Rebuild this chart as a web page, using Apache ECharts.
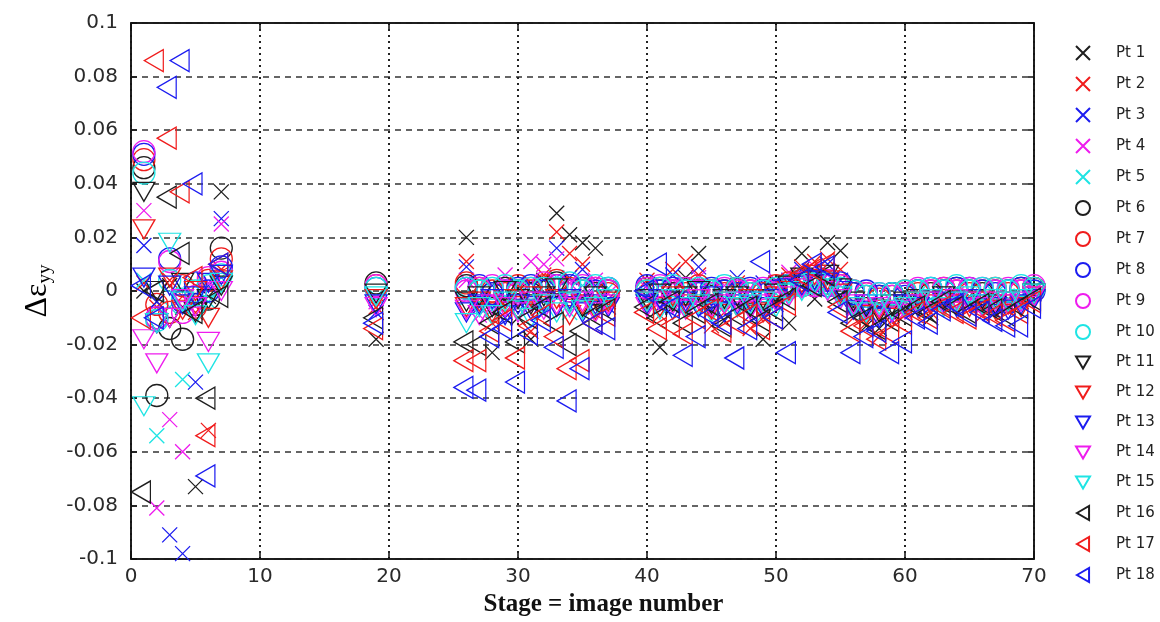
<!DOCTYPE html>
<html><head><meta charset="utf-8">
<script src="https://cdn.jsdelivr.net/npm/echarts@6/dist/echarts.min.js"></script>
<style>html,body{margin:0;padding:0;background:#fff}#c{width:1160px;height:622px}</style>
</head><body><div id="c"></div>
<script>
// Stage (image number) of every measured column
const stages = [1, 2, 3, 4, 5, 6, 7,
  19,
  26, 27, 28, 29, 30, 31, 32, 33, 34, 35, 36, 37,
  40, 41, 42, 43, 44, 45, 46, 47, 48, 49,
  50, 51, 52, 53, 54, 55, 56, 57, 58, 59,
  60, 61, 62, 63, 64, 65, 66, 67, 68, 69, 70];

const seriesNames = ['Pt 1','Pt 2','Pt 3','Pt 4','Pt 5','Pt 6','Pt 7','Pt 8','Pt 9','Pt 10',
  'Pt 11','Pt 12','Pt 13','Pt 14','Pt 15','Pt 16','Pt 17','Pt 18'];

const xTicks = [0, 10, 20, 30, 40, 50, 60, 70];
const yTicks = [-0.1, -0.08, -0.06, -0.04, -0.02, 0, 0.02, 0.04, 0.06, 0.08, 0.1];

// Δε_yy values, one per stage
const pt1 = [0.000, -0.004, 0.002, -0.006, -0.073, -0.002, 0.037,
  -0.018,
  0.020, -0.005, -0.023, -0.004, -0.010, -0.018, 0.004, 0.029, 0.021, 0.018, 0.016, -0.003,
  -0.002, -0.021, -0.006, 0.005, 0.014, -0.004, -0.011, 0.002, -0.005, -0.018,
  0.003, -0.012, 0.014, -0.003, 0.018, 0.015, -0.006, -0.013, -0.014, -0.009,
  -0.004, -0.007, -0.010, -0.003, 0.001, -0.002, -0.004, -0.006, -0.003, -0.002, 0.001];
const pt2 = [0.003, -0.006, 0.004, -0.002, -0.008, -0.052, 0.008,
  -0.006,
  0.011, -0.003, -0.012, -0.008, 0.002, -0.015, 0.006, 0.022, 0.014, 0.010, -0.006, -0.004,
  0.004, -0.009, 0.008, 0.011, 0.006, -0.013, -0.008, 0.003, -0.014, -0.010,
  0.001, 0.006, 0.009, 0.011, 0.012, 0.008, -0.010, -0.012, -0.017, -0.006,
  -0.009, -0.003, -0.008, -0.004, -0.002, -0.006, -0.009, -0.004, -0.007, -0.005, 0.000];
const pt3 = [0.017, -0.004, -0.091, -0.098, -0.034, 0.002, 0.027,
  -0.008,
  0.009, -0.006, 0.002, -0.010, -0.004, 0.003, -0.008, 0.016, 0.005, 0.008, 0.002, -0.006,
  0.002, -0.006, 0.006, -0.003, 0.009, -0.007, -0.003, 0.005, -0.009, 0.003,
  -0.005, 0.004, 0.008, 0.006, 0.010, 0.004, -0.004, -0.009, -0.006, -0.011,
  -0.002, -0.005, -0.006, -0.001, -0.003, -0.005, -0.003, -0.008, -0.006, -0.004, -0.001];
const pt4 = [0.030, -0.081, -0.048, -0.060, -0.005, 0.003, 0.025,
  -0.004,
  0.004, -0.009, -0.002, 0.006, -0.006, 0.011, 0.010, 0.012, 0.003, -0.002, 0.004, -0.001,
  0.001, -0.004, 0.003, -0.006, 0.005, -0.002, 0.002, -0.005, 0.001, -0.007,
  0.004, 0.007, 0.003, 0.009, 0.006, 0.002, -0.007, -0.005, -0.010, -0.004,
  -0.008, -0.002, -0.005, -0.003, -0.001, -0.004, -0.006, -0.002, -0.005, -0.003, 0.000];
const pt5 = [0.004, -0.054, -0.006, -0.033, 0.002, -0.004, 0.005,
  -0.002,
  -0.003, 0.002, -0.007, -0.002, 0.003, -0.005, -0.001, 0.005, -0.008, 0.002, -0.004, 0.001,
  -0.001, 0.002, -0.005, 0.001, -0.003, 0.003, -0.006, 0.000, -0.002, -0.009,
  -0.001, 0.003, 0.005, 0.002, 0.004, -0.002, -0.005, -0.008, -0.003, -0.006,
  -0.004, -0.001, -0.003, -0.005, 0.001, -0.002, -0.004, -0.001, -0.003, -0.002, 0.001];
const pt6 = [0.046, -0.039, -0.014, -0.018, -0.005, -0.003, 0.016,
  0.003,
  0.002, 0.000, -0.001, 0.001, 0.000, -0.001, 0.001, 0.003, 0.000, 0.001, -0.001, 0.000,
  0.001, 0.000, -0.001, 0.001, 0.000, -0.002, 0.000, 0.001, -0.001, 0.000,
  0.001, 0.002, 0.003, 0.002, 0.003, 0.001, -0.001, -0.002, -0.002, -0.001,
  -0.001, 0.000, -0.001, 0.000, 0.001, 0.000, -0.001, 0.000, 0.000, 0.001, 0.001];
const pt7 = [0.049, -0.005, -0.008, 0.002, -0.006, 0.004, 0.012,
  0.002,
  0.003, 0.001, 0.000, -0.001, 0.002, 0.000, 0.002, 0.004, 0.001, 0.000, 0.001, -0.001,
  0.000, 0.001, 0.000, -0.001, 0.002, 0.000, -0.001, 0.001, 0.000, -0.001,
  0.002, 0.003, 0.002, 0.004, 0.003, 0.002, 0.000, -0.001, -0.003, -0.002,
  0.000, -0.001, 0.000, 0.001, 0.000, -0.001, 0.000, 0.001, -0.001, 0.000, 0.001];
const pt8 = [0.051, -0.010, 0.012, -0.004, 0.003, 0.000, 0.009,
  0.001,
  0.001, 0.002, -0.001, 0.000, 0.001, 0.002, 0.000, 0.002, 0.002, 0.001, 0.000, 0.001,
  0.002, 0.000, 0.001, 0.000, -0.001, 0.001, 0.000, -0.001, 0.001, 0.000,
  0.000, 0.002, 0.004, 0.003, 0.002, 0.003, -0.001, 0.000, -0.002, -0.001,
  -0.002, 0.000, 0.001, 0.000, 0.001, 0.001, 0.000, -0.001, 0.000, 0.001, 0.000];
const pt9 = [0.052, -0.010, 0.011, -0.008, -0.002, 0.005, 0.007,
  0.002,
  0.000, 0.001, 0.002, 0.000, -0.001, 0.001, 0.003, 0.002, 0.000, 0.002, 0.001, 0.000,
  0.001, 0.002, 0.000, 0.001, 0.000, -0.001, 0.001, 0.000, 0.000, 0.001,
  -0.001, 0.001, 0.003, 0.002, 0.004, 0.002, 0.000, -0.001, -0.001, -0.002,
  -0.001, 0.001, 0.000, 0.001, 0.000, 0.001, 0.001, 0.000, 0.001, 0.000, 0.002];
const pt10 = [0.044, -0.011, 0.004, -0.003, 0.000, 0.002, 0.006,
  0.001,
  0.001, 0.000, 0.001, 0.002, 0.000, 0.001, 0.001, 0.001, 0.003, 0.000, 0.002, 0.001,
  0.000, 0.001, 0.002, 0.000, 0.001, 0.000, 0.002, 0.001, -0.001, 0.000,
  0.001, 0.002, 0.002, 0.003, 0.003, 0.001, 0.000, -0.002, -0.001, -0.001,
  0.000, 0.000, 0.001, 0.000, 0.002, 0.000, 0.001, 0.001, 0.000, 0.002, 0.001];
const pt11 = [0.037, 0.000, -0.010, 0.003, -0.008, -0.003, 0.002,
  -0.001,
  -0.004, -0.002, -0.006, 0.000, -0.003, -0.005, -0.002, 0.001, -0.004, -0.006, -0.002, -0.003,
  -0.003, -0.001, -0.004, -0.002, 0.000, -0.005, -0.003, -0.002, -0.006, -0.003,
  -0.001, 0.002, 0.005, 0.004, 0.006, 0.001, -0.004, -0.006, -0.008, -0.005,
  -0.004, -0.003, -0.004, -0.002, -0.003, -0.004, -0.003, -0.005, -0.004, -0.003, -0.001];
const pt12 = [0.023, -0.012, 0.005, -0.007, 0.000, -0.010, 0.004,
  -0.003,
  -0.006, -0.004, -0.008, -0.003, -0.007, -0.002, -0.004, -0.003, -0.009, -0.005, -0.007, -0.004,
  -0.004, -0.006, -0.002, -0.005, -0.003, -0.007, -0.004, -0.006, -0.003, -0.008,
  -0.002, 0.000, 0.003, 0.006, 0.004, -0.001, -0.006, -0.009, -0.007, -0.010,
  -0.006, -0.004, -0.005, -0.003, -0.005, -0.006, -0.004, -0.007, -0.005, -0.006, -0.002];
const pt13 = [0.005, -0.012, 0.002, -0.005, -0.002, 0.003, 0.006,
  -0.005,
  -0.008, -0.005, -0.003, -0.009, -0.005, -0.007, -0.004, -0.006, -0.003, -0.008, -0.005, -0.006,
  -0.005, -0.003, -0.007, -0.004, -0.006, -0.002, -0.008, -0.005, -0.004, -0.006,
  -0.003, 0.001, 0.002, 0.004, 0.003, 0.000, -0.007, -0.005, -0.010, -0.008,
  -0.005, -0.006, -0.003, -0.004, -0.006, -0.003, -0.005, -0.006, -0.007, -0.005, -0.003];
const pt14 = [-0.018, -0.027, -0.010, -0.003, -0.006, -0.019, 0.000,
  -0.006,
  -0.007, -0.009, -0.005, -0.006, -0.008, -0.004, -0.007, -0.005, -0.006, -0.004, -0.008, -0.005,
  -0.006, -0.004, -0.005, -0.007, -0.003, -0.006, -0.005, -0.004, -0.007, -0.005,
  -0.004, -0.002, 0.001, 0.002, 0.000, -0.003, -0.005, -0.007, -0.006, -0.008,
  -0.007, -0.005, -0.004, -0.005, -0.003, -0.004, -0.006, -0.004, -0.005, -0.004, -0.002];
const pt15 = [-0.043, -0.012, 0.018, -0.004, -0.009, -0.027, 0.003,
  -0.002,
  -0.012, -0.006, -0.009, -0.004, -0.007, -0.010, -0.005, -0.008, -0.004, -0.007, -0.006, -0.003,
  -0.004, -0.007, -0.003, -0.006, -0.005, -0.008, -0.004, -0.006, -0.005, -0.004,
  -0.006, -0.001, 0.000, 0.003, 0.001, -0.002, -0.006, -0.008, -0.005, -0.007,
  -0.006, -0.004, -0.003, -0.006, -0.004, -0.002, -0.005, -0.003, -0.004, -0.003, -0.001];
const pt16 = [-0.075, 0.000, 0.035, 0.014, -0.008, -0.040, -0.002,
  -0.010,
  -0.019, -0.020, -0.012, -0.008, -0.019, -0.010, -0.006, -0.012, -0.020, -0.015, -0.009, -0.007,
  -0.006, -0.010, -0.004, -0.012, -0.008, -0.005, -0.013, -0.009, -0.006, -0.011,
  -0.007, -0.003, 0.004, 0.002, 0.006, -0.004, -0.012, -0.010, -0.014, -0.011,
  -0.009, -0.006, -0.008, -0.004, -0.006, -0.008, -0.005, -0.007, -0.009, -0.006, -0.003];
const pt17 = [-0.010, 0.086, 0.057, 0.037, 0.005, -0.054, 0.010,
  -0.014,
  -0.026, -0.026, -0.015, -0.011, -0.025, -0.013, -0.009, -0.017, -0.029, -0.026, -0.012, -0.009,
  -0.008, -0.014, -0.013, -0.016, -0.010, -0.007, -0.015, -0.012, -0.009, -0.014,
  -0.010, -0.005, 0.006, 0.008, 0.010, -0.006, -0.015, -0.013, -0.018, -0.016,
  -0.012, -0.008, -0.010, -0.006, -0.008, -0.010, -0.007, -0.009, -0.011, -0.008, -0.004];
const pt18 = [0.002, -0.010, 0.076, 0.086, 0.040, -0.069, 0.010,
  -0.012,
  -0.036, -0.037, -0.017, -0.014, -0.034, -0.016, -0.011, -0.021, -0.041, -0.029, -0.012, -0.014,
  0.000, 0.010, -0.006, -0.024, -0.017, -0.009, -0.012, -0.025, -0.014, 0.011,
  -0.010, -0.023, 0.004, 0.010, 0.009, -0.008, -0.023, -0.017, -0.015, -0.023,
  -0.019, -0.010, -0.012, -0.007, -0.005, -0.009, -0.008, -0.011, -0.013, -0.013, -0.006];

const allValues = [pt1, pt2, pt3, pt4, pt5, pt6, pt7, pt8, pt9, pt10,
  pt11, pt12, pt13, pt14, pt15, pt16, pt17, pt18];

// ---- styling ----
const palette = ['#1e1e1e', '#f01c1c', '#1c1cf0', '#ee1cee', '#1ee4e4'];
const SYM_X = 'path://M0,0L10,10M10,0L0,10';
const SYM_DOWN = 'path://M0,0L10,0L5,8.66Z';
const SYM_LEFT = 'path://M0,5L8.66,0L8.66,10Z';

function markerFor(i) {
  if (i < 5) return { symbol: SYM_X, size: [15, 15], offset: [0, 0] };
  if (i < 10) return { symbol: 'circle', size: 22, offset: [0, 0] };
  if (i < 15) return { symbol: SYM_DOWN, size: [22, 19], offset: [0, 0] };
  return { symbol: SYM_LEFT, size: [19, 22], offset: [-3, 0] };
}

const series = allValues.map((vals, i) => {
  const m = markerFor(i);
  const c = palette[i % 5];
  return {
    name: seriesNames[i],
    type: 'scatter',
    symbol: m.symbol,
    symbolSize: m.size,
    symbolOffset: m.offset,
    itemStyle: { color: 'rgba(0,0,0,0)', borderColor: c, borderWidth: 1.3, opacity: 1 },
    emphasis: { disabled: true },
    data: stages.map((s, k) => [s, vals[k]])
  };
});

const chart = echarts.init(document.getElementById('c'), null, { renderer: 'canvas' });
const tickFont = { fontFamily: 'DejaVu Sans', fontSize: 20, color: '#2a2a2a' };
const frameLine = { show: true, onZero: false, lineStyle: { color: '#111', width: 1.5 } };
const frameTick = { show: true, inside: true, length: 6, lineStyle: { color: '#111', width: 1.5 } };

chart.setOption({
  animation: false,
  backgroundColor: '#fff',
  grid: { left: 131, right: 126, top: 23, bottom: 60, show: true, borderColor: '#111', borderWidth: 1.5, backgroundColor: '#fff' },
  legend: {
    orient: 'vertical', left: 1070, top: 40,
    itemWidth: 14, itemHeight: 14, itemGap: 15,
    data: seriesNames,
    textStyle: { fontFamily: 'DejaVu Sans', fontSize: 15, color: '#222', padding: [0, 0, 0, 21] },
    selectedMode: false
  },
  xAxis: [{
    type: 'value', min: xTicks[0], max: xTicks[xTicks.length - 1], interval: 10,
    axisLine: frameLine,
    axisTick: frameTick,
    axisLabel: Object.assign({ margin: 8 }, tickFont),
    splitLine: { show: true, lineStyle: { color: '#222', type: [2, 4], width: 2 } },
    name: 'Stage = image number', nameLocation: 'middle', nameGap: 33,
    nameTextStyle: { fontFamily: 'Liberation Serif', fontWeight: 'bold', fontSize: 25, color: '#111', padding: [0, 0, 0, 42] }
  }, {
    type: 'value', position: 'top', min: 0, max: 70, interval: 10,
    axisLine: frameLine, axisTick: frameTick,
    axisLabel: { show: false }, splitLine: { show: false }
  }],
  yAxis: [{
    type: 'value', min: yTicks[0], max: yTicks[yTicks.length - 1], interval: 0.02,
    axisLine: frameLine,
    axisTick: frameTick,
    axisLabel: Object.assign({ margin: 13 }, tickFont),
    splitLine: { show: true, lineStyle: { color: '#333', type: [6, 5], width: 1.6 } },
    name: '{d|Δε}{s|yy}', nameLocation: 'middle', nameRotate: 90, nameGap: 76,
    nameTextStyle: {
      rich: {
        d: { fontFamily: 'Liberation Serif', fontSize: 32, color: '#000', verticalAlign: 'middle' },
        s: { fontFamily: 'Liberation Serif', fontSize: 19, color: '#000', verticalAlign: 'middle', padding: [16, 0, 0, 0] }
      }
    }
  }, {
    type: 'value', position: 'right', min: -0.1, max: 0.1, interval: 0.02,
    axisLine: frameLine, axisTick: frameTick,
    axisLabel: { show: false }, splitLine: { show: false }
  }],
  series: series
});
</script></body></html>
